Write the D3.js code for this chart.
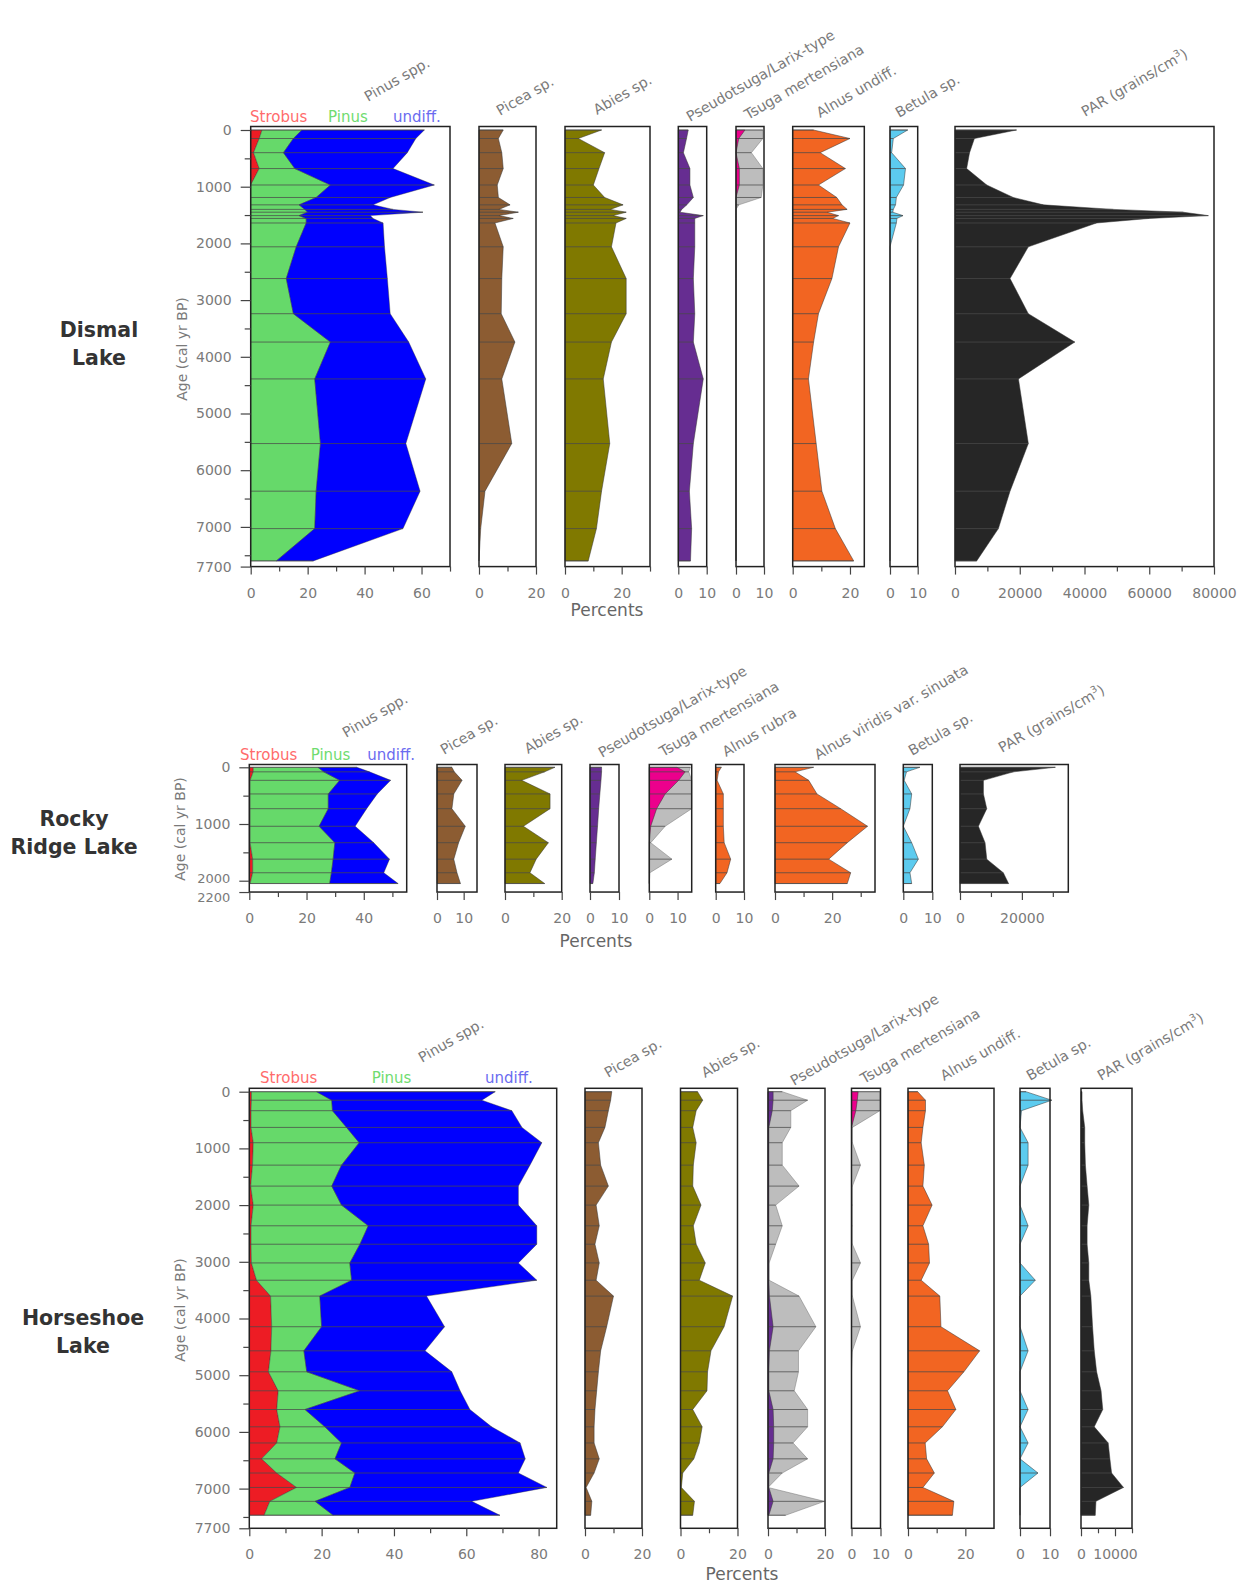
<!DOCTYPE html>
<html>
<head>
<meta charset="utf-8">
<script src="https://cdn.jsdelivr.net/npm/d3@7"></script>
<style>
body { margin: 0; background: #fff; }
svg text { font-family: "DejaVu Sans", sans-serif; }
</style>
</head>
<body>
<svg id="chart" width="1241" height="1595"></svg>
<script>
// ---- Dismal Lake (percent of pollen sum, PAR in grains/cm3)
const dismalAges = [0,150,400,680,970,1190,1320,1400,1450,1510,1560,1640,2060,2620,3240,3740,4390,5530,6370,7030,7600];
const dismalStrobus = [4,3,1,3,0,0,0,0,0,0,0,0,0,0,0,0,0,0,0,0,0];
const dismalPinus = [14,12,10.5,12.5,28,23,17,19,20,17,19.5,19.5,16,12.5,15,28,22.5,24.5,23,22.5,9];
const dismalUndiff = [43,43,43.5,34.5,36.5,26,26,31,40.5,25,23.5,27,31,35.5,34,27.5,39,30,36.5,31,13];
const dismalPicea = [8.5,6.8,8,8.5,6.4,6.8,10.9,7,13.8,7,12,5.6,8.5,8,7.8,12.6,8,11.5,2.1,0.6,0];
const dismalAbies = [12.9,4.7,14,12,10,14,20.5,16,21.6,17,21.6,18,16.4,21.6,21.6,16.4,13.5,15.8,12.9,11.1,8.2];
const dismalPseudotsuga = [3.5,2.9,1.8,4.1,4.1,5.3,3,1.2,0.6,8.8,5.8,5.8,5.8,5.3,5.8,5.3,8.8,5.3,3.9,4.7,4.3];
const dismalTsuga = [3.2,1,0,1.2,1.2,0,0,0,0,0,0,0,0,0,0,0,0,0,0,0,0];
const dismalTsugaX = [9.6,9.6,5.5,9.6,9.6,9,1,0,0,0,0,0,0,0,0,0,0,0,0,0,0];
const dismalAlnus = [7.3,20,9.6,18.4,9,15.4,17.2,19,12,16,14,20,16,13.7,9,7.3,5.5,8.2,10.2,14.9,21.3];
const dismalBetula = [6.4,1.2,0.6,5.6,4.9,2.3,2,1.2,1,4.7,2.5,2.3,0,0,0,0,0,0,0,0,0];
const dismalPAR = [19000,6000,4500,3600,9800,18000,27300,48900,70500,78250,60000,43700,22650,17000,22650,37000,19600,22650,17000,13400,6700];

// ---- Rocky Ridge Lake
const rockyAges = [0,80,230,470,730,1040,1330,1620,1860,2050];
const rockyStrobus = [1.4,1.4,0.3,0.3,0.3,0.3,0.3,1.2,1.2,0.3];
const rockyPinus = [22.6,24.6,31.3,27.3,27.3,24.1,29.6,28.1,27.5,27.8];
const rockyUndiff = [13.6,16,17.8,17.1,13.4,12.6,13.6,19.7,18.3,23.9];
const rockyPicea = [5.6,6.5,9.4,6.3,5.6,10.6,8.1,6.3,7.5,8.8];
const rockyAbies = [17.6,14,5.9,15.9,15.9,6.5,15.3,11,8.8,14];
const rockyPseudotsuga = [4,4,3.8,3.4,3,2.6,2.2,1.8,1.5,1];
const rockyTsuga = [9.8,12.7,10.4,5.6,2.6,0.5,0,0,0,0];
const rockyTsugaX = [14.5,14,15,15,15,5.6,0.5,8,0.2,0];
const rockyAlnusRubra = [2,1,0.5,2.7,2.7,2.7,3,5.3,4,1.5];
const rockyAlnusViridis = [13.5,7,11.8,14.7,23,32.4,25.3,18.8,26.5,25.3];
const rockyBetula = [5.7,1.1,0.3,2.9,2.3,0,2.9,5.2,2.3,2.9];
const rockyPAR = [30800,17300,7570,7570,8650,5950,8100,8650,14000,15700];

// ---- Horseshoe Lake
const horseAges = [0,150,335,630,900,1295,1665,2000,2365,2690,3020,3325,3605,4145,4570,4940,5275,5605,5910,6195,6475,6725,6980,7225,7470];
const horseStrobus = [0.6,0.6,0.5,0.5,1.1,0.9,0.4,1.1,0.5,0.5,0.6,2,5.9,6.2,6,5.3,8,7.6,8.5,7.6,3.4,7.6,13.1,5.7,4.1];
const horsePinus = [18,22.2,22.5,26.4,29.3,24.6,22.4,24.4,32.4,30.1,27.2,26.3,13.6,13.8,9.1,10.6,22.6,7.8,12.4,17.9,20.3,21.6,14.7,12.5,19.1];
const horseUndiff = [49.4,41.5,49.6,48.5,50.5,52.1,51.6,48.9,46.6,48.9,46.6,51.2,29.5,34,33.5,40.1,27.7,45.6,46.1,49.4,52.6,45.2,54.5,43.3,46.1];
const horsePicea = [9.4,9,8.2,7,4.7,5.5,8.2,3.9,5,3.5,5,3.9,10,7.6,5.5,4.7,4.1,3.5,3.2,3.2,5,3.2,0.4,2.4,2];
const horseAbies = [6,7.8,5.5,4.3,5.5,4.5,4.3,7.2,4.5,5.5,8.7,6.6,18.3,15.3,10.7,9.5,9.3,4.3,7.6,6.6,4.7,0.8,0.3,4.9,4.3];
const horsePseudotsuga = [1.8,1.8,1.5,0.3,0.3,0.3,0.3,0.3,0.3,0.3,0.3,0.3,0.5,1.8,0.5,0.3,0.3,1.8,2,2,1.8,0.3,0.3,1.8,0.3];
const horsePseudotsugaX = [5,13.9,8,8,5,5,10.9,2.7,5,2.7,0.4,0.4,10.9,16.8,10.7,10.7,9.2,13.9,13.9,8.8,13.9,5,0,19.8,6.2];
const horseTsuga = [2.3,2,1.5,0,0,0,0,0,0,0,0,0,0,0,0,0,0,0,0,0,0,0,0,0,0];
const horseTsugaX = [9.8,9.8,9.8,0.3,0.3,3.1,0.3,0.3,0.3,0.3,3.1,0.3,0.3,3.1,0.3,0,0,0,0,0,0,0,0,0,0];
const horseAlnus = [3.4,6.1,6.1,5.2,4.6,5.7,5.2,8.4,5.2,7.2,7.5,4.6,11.1,11.5,25,19.5,13.8,16.7,12,6,6.5,9.2,5.2,16,15.5];
const horseBetula = [2,10.6,0.5,0,2.7,2.7,0,0,2.7,0,0,5.1,0,0,2.7,0,0,2.7,0,2.7,0,6,0,0,0];
const horsePAR = [300,300,500,1100,1100,1300,1800,2300,1800,1800,2300,2300,2900,3400,3900,4600,5900,6400,3900,8000,8500,9000,12500,4400,4200];

const C = {
  strobus: "#ed1c24", pinus: "#66d96a", undiff: "#0000fe",
  picea: "#8c5c32", abies: "#807900", pseudo: "#662d91",
  tsuga: "#ec008c", exag: "#bdbdbd", alnus: "#f26522",
  betula: "#5ccbef", par: "#262626"
};
const pinusLegend = [["Strobus", "#ff6b6b"], ["Pinus", "#6fdc6f"], ["undiff.", "#6b6bf0"]];

const lakes = [
  {
    name: ["Dismal", "Lake"], nameX: 99, nameY: 337,
    ages: dismalAges, ageMax: 7700, y0: 130, boxTop: 126.5,
    yTicks: [0,1000,2000,3000,4000,5000,6000,7000,7700],
    yMinor: [500,1500,2500,3500,4500,5500,6500,7500],
    ageLabelY: 349, legendX: [250, 328, 393], legendY: 121.5,
    percents: [607, 616],
    cols: [
      {label: "Pinus spp.", lx: 368, ly: 102, x0: 250.7, x1: 450, max: 70, ticks: [0,20,40,60], minor: [10,30,50,70],
       stack: [["strobus", dismalStrobus], ["pinus", dismalPinus], ["undiff", dismalUndiff]]},
      {label: "Picea sp.", lx: 500, ly: 116, x0: 479, x1: 536, max: 20, ticks: [0,20], minor: [10], layers: [["picea", dismalPicea]]},
      {label: "Abies sp.", lx: 597, ly: 115, x0: 565, x1: 650, max: 30, ticks: [0,20], minor: [10,30], layers: [["abies", dismalAbies]]},
      {label: "Pseudotsuga/Larix-type", lx: 690, ly: 122, x0: 678.3, x1: 706.7, max: 10, ticks: [0,10], minor: [], layers: [["pseudo", dismalPseudotsuga]]},
      {label: "Tsuga mertensiana", lx: 748, ly: 120, x0: 736, x1: 764, max: 10, ticks: [0,10], minor: [], layers: [["exag", dismalTsugaX], ["tsuga", dismalTsuga]]},
      {label: "Alnus undiff.", lx: 820, ly: 118, x0: 792.7, x1: 864.3, max: 25, ticks: [0,20], minor: [10], layers: [["alnus", dismalAlnus]]},
      {label: "Betula sp.", lx: 899, ly: 118, x0: 890, x1: 917.7, max: 10, ticks: [0,10], minor: [], layers: [["betula", dismalBetula]]},
      {label: "PAR", lx: 1085, ly: 117, x0: 955, x1: 1214, max: 80000, ticks: [0,20000,40000,60000,80000], minor: [10000,30000,50000,70000], layers: [["par", dismalPAR]]}
    ]
  },
  {
    name: ["Rocky", "Ridge Lake"], nameX: 74, nameY: 826,
    ages: rockyAges, ageMax: 2200, y0: 767.3, boxTop: 764.5,
    yTicks: [0,1000,2000,2200], yMinor: [500,1500],
    ageLabelY: 829, legendX: [240, 310.7, 367.3], legendY: 760,
    percents: [596, 947],
    cols: [
      {label: "Pinus spp.", lx: 346, ly: 738, x0: 249.3, x1: 406.7, max: 55, ticks: [0,20,40], minor: [10,30,50],
       stack: [["strobus", rockyStrobus], ["pinus", rockyPinus], ["undiff", rockyUndiff]]},
      {label: "Picea sp.", lx: 444, ly: 755, x0: 437, x1: 477, max: 15, ticks: [0,10], minor: [], layers: [["picea", rockyPicea]]},
      {label: "Abies sp.", lx: 528, ly: 754, x0: 505, x1: 561.7, max: 20, ticks: [0,20], minor: [10], layers: [["abies", rockyAbies]]},
      {label: "Pseudotsuga/Larix-type", lx: 602, ly: 758, x0: 590, x1: 619, max: 10, ticks: [0,10], minor: [], layers: [["pseudo", rockyPseudotsuga]]},
      {label: "Tsuga mertensiana", lx: 663, ly: 757, x0: 649.3, x1: 691.7, max: 15, ticks: [0,10], minor: [], layers: [["exag", rockyTsugaX], ["tsuga", rockyTsuga]]},
      {label: "Alnus rubra", lx: 726, ly: 757, x0: 715.7, x1: 744, max: 10, ticks: [0,10], minor: [], layers: [["alnus", rockyAlnusRubra]]},
      {label: "Alnus viridis var. sinuata", lx: 818, ly: 760, x0: 775, x1: 875, max: 35, ticks: [0,20], minor: [10,30], layers: [["alnus", rockyAlnusViridis]]},
      {label: "Betula sp.", lx: 912, ly: 756, x0: 903.3, x1: 932.3, max: 10, ticks: [0,10], minor: [], layers: [["betula", rockyBetula]]},
      {label: "PAR", lx: 1002, ly: 753, x0: 960, x1: 1068.3, max: 35000, ticks: [0,20000], minor: [10000,30000], layers: [["par", rockyPAR]]}
    ]
  },
  {
    name: ["Horseshoe", "Lake"], nameX: 83, nameY: 1325,
    ages: horseAges, ageMax: 7700, y0: 1091.7, boxTop: 1088.3,
    yTicks: [0,1000,2000,3000,4000,5000,6000,7000,7700],
    yMinor: [500,1500,2500,3500,4500,5500,6500,7500],
    ageLabelY: 1310, legendX: [260, 371.7, 485], legendY: 1083.3,
    percents: [742, 1580],
    cols: [
      {label: "Pinus spp.", lx: 422, ly: 1063, x0: 249.3, x1: 556.7, max: 85, ticks: [0,20,40,60,80], minor: [10,30,50,70],
       stack: [["strobus", horseStrobus], ["pinus", horsePinus], ["undiff", horseUndiff]]},
      {label: "Picea sp.", lx: 608, ly: 1078, x0: 585, x1: 642, max: 20, ticks: [0,20], minor: [10], layers: [["picea", horsePicea]]},
      {label: "Abies sp.", lx: 705, ly: 1078, x0: 680.5, x1: 737.5, max: 20, ticks: [0,20], minor: [10], layers: [["abies", horseAbies]]},
      {label: "Pseudotsuga/Larix-type", lx: 794, ly: 1086, x0: 768, x1: 825, max: 20, ticks: [0,20], minor: [10], layers: [["exag", horsePseudotsugaX], ["pseudo", horsePseudotsuga]]},
      {label: "Tsuga mertensiana", lx: 864, ly: 1084, x0: 851.5, x1: 880.5, max: 10, ticks: [0,10], minor: [], layers: [["exag", horseTsugaX], ["tsuga", horseTsuga]]},
      {label: "Alnus undiff.", lx: 944, ly: 1081, x0: 908, x1: 994, max: 30, ticks: [0,20], minor: [10], layers: [["alnus", horseAlnus]]},
      {label: "Betula sp.", lx: 1030, ly: 1081, x0: 1020, x1: 1050, max: 10, ticks: [0,10], minor: [], layers: [["betula", horseBetula]]},
      {label: "PAR", lx: 1101, ly: 1081, x0: 1081, x1: 1132, max: 15000, ticks: [0,10000], minor: [5000,15000], layers: [["par", horsePAR]]}
    ]
  }
];

const svg = d3.select("#chart");
const grey = "#7a7a7a";

function drawColumn(L, col, y) {
  const x = d3.scaleLinear().domain([0, col.max]).range([col.x0, col.x1]);
  const g = svg.append("g");
  const yBottom = y(L.ageMax);
  let totals;

  if (col.stack) {
    const table = L.ages.map((a, i) => {
      const row = {age: a};
      col.stack.forEach(([k, v]) => row[k] = v[i]);
      return row;
    });
    const layers = d3.stack().keys(col.stack.map(s => s[0]))(table);
    layers.forEach(layer => {
      g.append("path").datum(layer)
        .attr("fill", C[layer.key])
        .attr("stroke", "#333").attr("stroke-width", 0.4)
        .attr("d", d3.area()
          .y(d => y(d.data.age))
          .x0(d => x(d[0]))
          .x1(d => x(d[1])));
    });
    totals = layers[layers.length - 1].map(d => d[1]);
  } else {
    col.layers.forEach(([k, vals]) => {
      const pts = L.ages.map((a, i) => ({age: a, v: vals[i]}));
      g.append("path").datum(pts)
        .attr("fill", C[k])
        .attr("stroke", k === "exag" ? "#777" : "#333")
        .attr("stroke-width", 0.5)
        .attr("d", d3.area()
          .y(d => y(d.age))
          .x0(x(0))
          .x1(d => x(d.v)));
    });
    totals = L.ages.map((a, i) => d3.max(col.layers, l => l[1][i]));
  }

  // sample lines
  g.selectAll("line.sample")
    .data(L.ages.map((a, i) => ({age: a, v: totals[i]})))
    .join("line")
    .attr("class", "sample")
    .attr("x1", x(0)).attr("x2", d => x(d.v))
    .attr("y1", d => y(d.age)).attr("y2", d => y(d.age))
    .attr("stroke", "#4a4a4a").attr("stroke-width", 1).attr("opacity", 0.75);

  // frame
  g.append("rect")
    .attr("x", col.x0).attr("y", L.boxTop)
    .attr("width", col.x1 - col.x0).attr("height", yBottom - L.boxTop)
    .attr("fill", "none").attr("stroke", "#222").attr("stroke-width", 1.5);

  // bottom axis
  const axG = g.append("g").attr("transform", `translate(0,${yBottom})`);
  axG.call(d3.axisBottom(x).tickValues(col.ticks).tickSize(8).tickPadding(13).tickFormat(d => String(d)));
  axG.append("g").call(d3.axisBottom(x).tickValues(col.minor).tickSize(5).tickFormat(""));
  axG.selectAll(".domain").remove();
  axG.selectAll("line").attr("stroke", "#444").attr("stroke-width", 1.2);
  axG.selectAll("text").attr("font-size", 14).attr("fill", grey).attr("font-family", "DejaVu Sans");

  // rotated title
  const t = svg.append("text")
    .attr("transform", `translate(${col.lx},${col.ly}) rotate(-30)`)
    .attr("font-size", 14.3).attr("fill", grey);
  if (col.label === "PAR") {
    t.append("tspan").text("PAR (grains/cm");
    t.append("tspan").text("3").attr("font-size", 9.5).attr("dy", -6);
    t.append("tspan").text(")").attr("dy", 6);
  } else {
    t.text(col.label);
  }
}

lakes.forEach(L => {
  const y = d3.scaleLinear().domain([0, L.ageMax]).range([L.y0, L.y0 + L.ageMax * 0.0567]);
  L.cols.forEach(col => drawColumn(L, col, y));

  const left = L.cols[0].x0;
  const ay = svg.append("g").attr("transform", `translate(${left},0)`);
  ay.call(d3.axisLeft(y).tickValues(L.yTicks).tickSize(10).tickPadding(9).tickFormat(d => String(d)));
  ay.append("g").call(d3.axisLeft(y).tickValues(L.yMinor).tickSize(6).tickFormat(""));
  ay.selectAll(".domain").remove();
  ay.selectAll("line").attr("stroke", "#444").attr("stroke-width", 1.2);
  ay.selectAll("text").attr("font-size", 14).attr("fill", grey).attr("font-family", "DejaVu Sans");
  // the closely spaced 2000 / 2200 labels of the short core are pulled apart a little
  if (L.ageMax === 2200) {
    ay.selectAll(".tick text").filter(d => d === 2000).attr("font-size", 13).attr("dy", "0.1em");
    ay.selectAll(".tick text").filter(d => d === 2200).attr("font-size", 13).attr("dy", "0.75em");
  }

  svg.append("text")
    .attr("transform", `translate(${left - 64},${L.ageLabelY}) rotate(-90)`)
    .attr("text-anchor", "middle").attr("font-size", 14).attr("fill", grey)
    .text("Age (cal yr BP)");

  L.name.forEach((n, i) => {
    svg.append("text")
      .attr("x", L.nameX).attr("y", L.nameY + i * 28)
      .attr("text-anchor", "middle")
      .attr("font-size", 20.5).attr("font-weight", "bold").attr("fill", "#333")
      .text(n);
  });

  pinusLegend.forEach(([txt, c], i) => {
    svg.append("text")
      .attr("x", L.legendX[i]).attr("y", L.legendY)
      .attr("font-size", 15).attr("fill", c)
      .text(txt);
  });

  svg.append("text")
    .attr("x", L.percents[0]).attr("y", L.percents[1])
    .attr("text-anchor", "middle").attr("font-size", 17).attr("fill", "#666")
    .text("Percents");
});
</script>
</body>
</html>
